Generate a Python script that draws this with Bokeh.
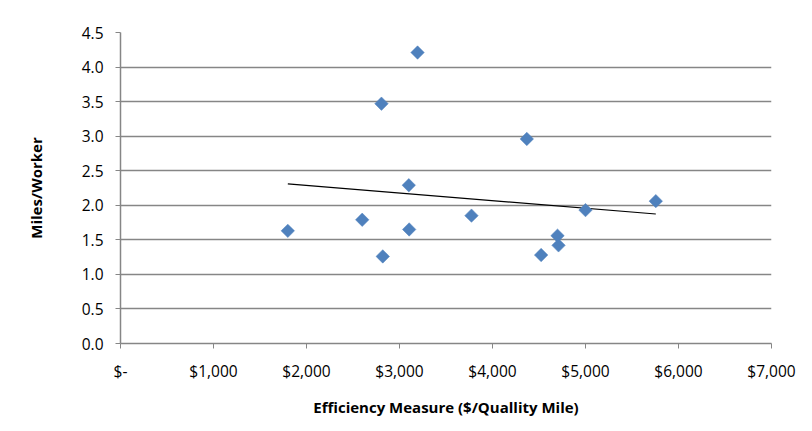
import numpy as np
from bokeh.plotting import figure
from bokeh.models import FixedTicker, Range1d, ColumnDataSource
from bokeh.embed import file_html
from bokeh.resources import INLINE

# data
cost = [1799, 2599, 2806, 2820, 3100, 3104, 3194, 3774, 4369, 4523, 4699, 4710, 5000, 5756]
miles = [1.63, 1.79, 3.47, 1.26, 2.29, 1.65, 4.21, 1.85, 2.96, 1.28, 1.56, 1.42, 1.93, 2.06]

x_ticks = [0, 1000, 2000, 3000, 4000, 5000, 6000, 7000]
x_tick_labels = ["$-", "$1,000", "$2,000", "$3,000", "$4,000", "$5,000", "$6,000", "$7,000"]
y_ticks = [0.0, 0.5, 1.0, 1.5, 2.0, 2.5, 3.0, 3.5, 4.0, 4.5]
y_tick_labels = ["0.0", "0.5", "1.0", "1.5", "2.0", "2.5", "3.0", "3.5", "4.0", "4.5"]

FONT = "Open Sans"
GRAY = "#868686"

p = figure(width=812, height=431, output_backend="svg", toolbar_location=None,
           x_range=Range1d(0, 7000), y_range=Range1d(0, 4.5),
           min_border_left=120, min_border_right=41, min_border_top=32, min_border_bottom=88)
p.outline_line_color = None
p.background_fill_color = "white"
p.border_fill_color = "white"

# axes
p.xaxis.ticker = FixedTicker(ticks=x_ticks)
p.xaxis.major_label_overrides = {t: l for t, l in zip(x_ticks, x_tick_labels)}
p.yaxis.ticker = FixedTicker(ticks=y_ticks)
p.yaxis.major_label_overrides = {t: l for t, l in zip(y_ticks, y_tick_labels)}

for ax in (p.xaxis[0], p.yaxis[0]):
    ax.axis_line_color = GRAY
    ax.axis_line_width = 1.5
    ax.major_tick_line_color = GRAY
    ax.major_tick_in = 0
    ax.major_tick_out = 5
    ax.minor_tick_line_color = None
    ax.major_label_text_font = FONT
    ax.major_label_text_font_size = "15.5px"
    ax.major_label_text_color = "#000000"
    ax.axis_label_text_font = FONT
    ax.axis_label_text_font_size = "15px"
    ax.axis_label_text_font_style = "bold"
    ax.axis_label_text_color = "#000000"

p.xaxis.axis_label = "Efficiency Measure ($/Quallity Mile)"
p.yaxis.axis_label = "Miles/Worker"
p.yaxis.major_label_standoff = 12
p.xaxis.major_label_standoff = 11
p.yaxis.axis_label_standoff = 33
p.xaxis.axis_label_standoff = 12

p.xgrid.grid_line_color = None
p.ygrid.grid_line_color = GRAY
p.ygrid.grid_line_width = 1.5

# trendline (least squares)
slope, intercept = np.polyfit(cost, miles, 1)
tx = [min(cost), max(cost)]
ty = [slope * v + intercept for v in tx]
p.line(tx, ty, line_color="black", line_width=1.2)

src = ColumnDataSource(dict(x=cost, y=miles))
p.scatter("x", "y", source=src, marker="square", angle=np.pi / 4, size=9.5,
          fill_color="#4F81BD", line_color="#4F81BD", line_width=0.5)

open("out.html", "w").write(file_html(p, INLINE))
